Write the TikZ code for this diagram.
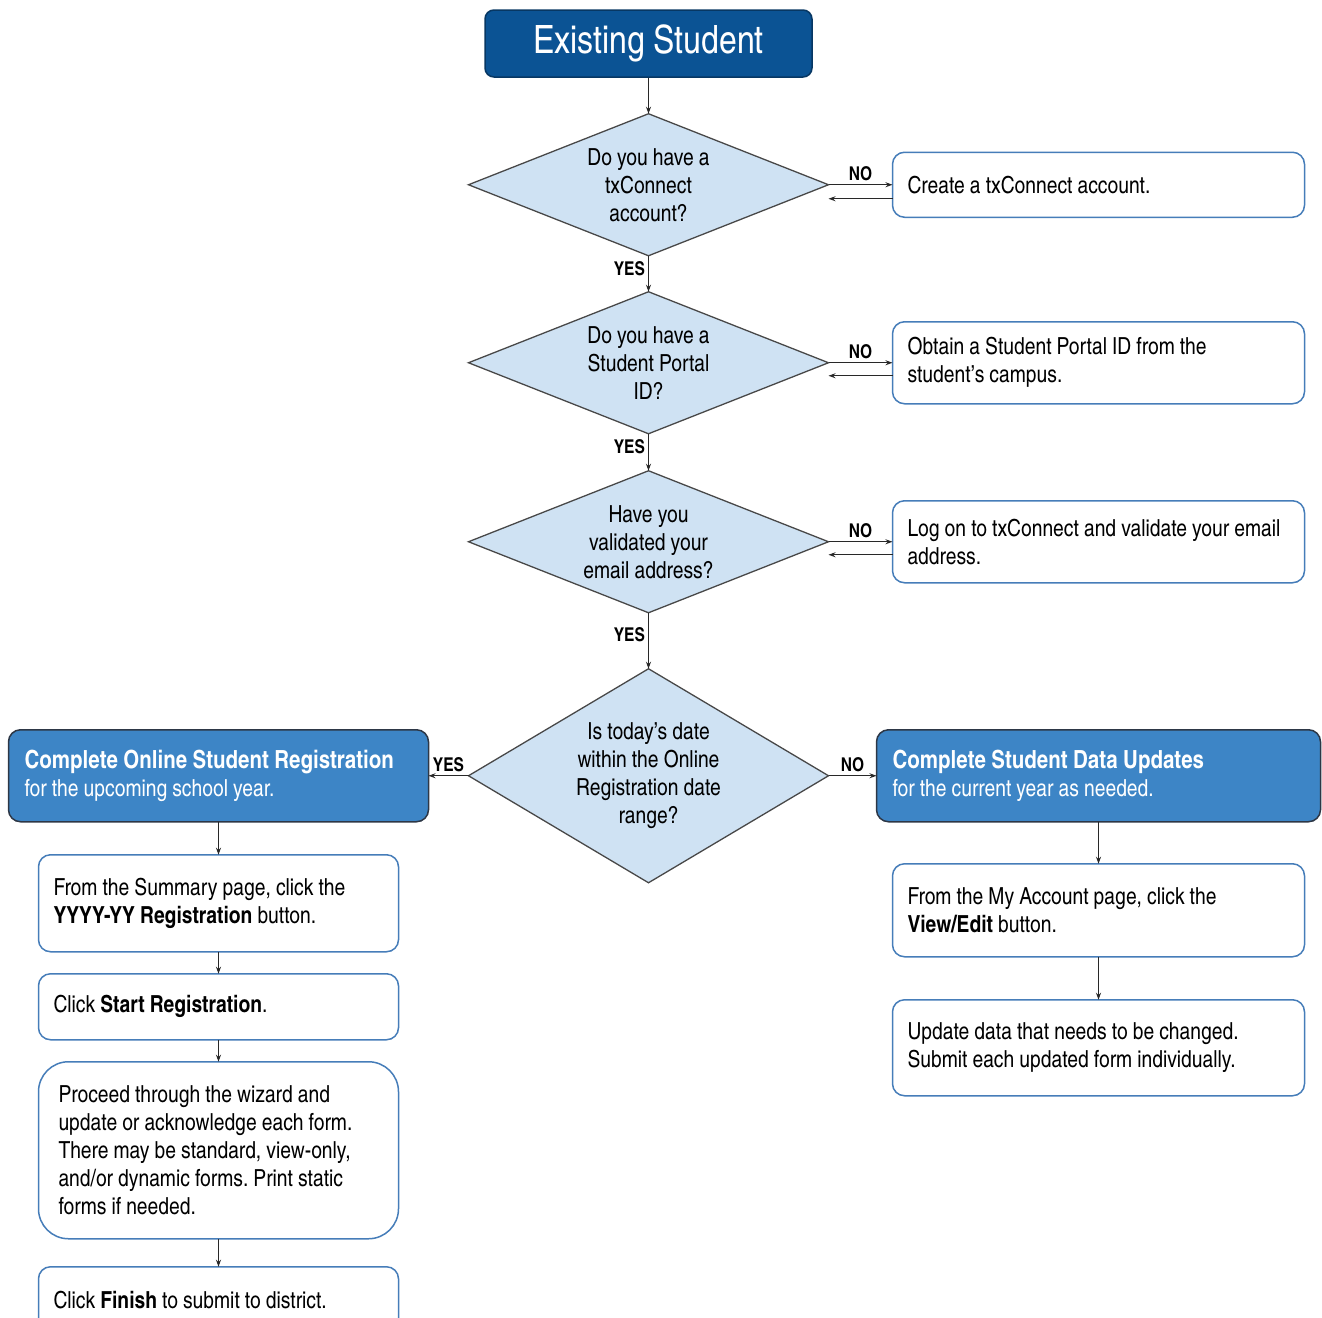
\documentclass[tikz,border=0pt]{standalone}
\usepackage{fontspec}
\setmainfont{texgyreheroscn}[Extension=.otf, UprightFont=*-regular, BoldFont=*-bold, WordSpace=0.95]
\usetikzlibrary{positioning,arrows.meta,shapes.geometric}
\definecolor{titleblue}{RGB}{11,83,148}
\definecolor{titleedge}{RGB}{7,55,99}
\definecolor{stageblue}{RGB}{61,133,198}
\definecolor{stageedge}{RGB}{45,55,70}
\definecolor{decfill}{RGB}{207,226,243}
\definecolor{stepedge}{RGB}{70,125,185}
\definecolor{lineclr}{RGB}{40,40,40}
\newcommand{\txtsize}{\fontsize{23.5}{28}\selectfont}
\newcommand{\headtxt}[1]{{\bfseries\fontsize{25}{28}\selectfont #1}}
\frenchspacing

\begin{document}
\begin{tikzpicture}[
    x=1pt, y=-1pt,
    title/.style={draw=titleedge, line width=1.5pt, fill=titleblue, text=white, rounded corners=9pt, minimum width=327pt, minimum height=67pt, font=\fontsize{39}{44}\selectfont},
    decision/.style={diamond, draw=lineclr!85, line width=1.3pt, fill=decfill, aspect=2.5, inner sep=0pt, outer sep=0pt, minimum width=360pt, minimum height=142pt, align=flush center, font=\txtsize},
    stepbox/.style 2 args={draw=stepedge, line width=1.5pt, fill=white, rounded corners=12pt, inner xsep=15pt, outer sep=0pt, text width=#1, minimum height=#2, align=flush left, font=\txtsize},
    stage/.style={draw=stageedge, line width=1.5pt, fill=stageblue, text=white, rounded corners=12pt, inner xsep=16pt, outer sep=0pt, text width=#1, minimum height=92pt, align=flush left, font=\txtsize},
    arr/.style={-{Stealth[length=7pt,width=5pt]}, line width=1pt, draw=lineclr},
    yn/.style={font=\bfseries\fontsize{19}{22}\selectfont, inner sep=3pt}
  ]
  \useasboundingbox (0,0) rectangle (1322,1317);

  \node[title] (start) at (648.5,43.5) {Existing Student};
  \node[decision, below=36pt of start] (qacct) {Do you have a\\txConnect\\account?};
  \node[decision, below=36pt of qacct] (qportal) {Do you have a\\Student Portal\\ID?};
  \node[decision, below=37pt of qportal] (qemail) {Have you\\validated your\\email address?};
  \node[decision, below=56pt of qemail, aspect=1.7, minimum height=214pt] (qdate) {Is today's date\\within the Online\\Registration date\\range?};

  \node[stepbox={382pt}{65pt}, right=64pt of qacct] (mkacct) {Create a txConnect account.};
  \node[stepbox={382pt}{82pt}, right=64pt of qportal] (getid) {Obtain a Student Portal ID from the\\student's campus.};
  \node[stepbox={382pt}{82pt}, right=64pt of qemail] (valid) {Log on to txConnect and validate your email\\address.};

  \node[stage={388pt}, left=40pt of qdate] (reg) {\headtxt{Complete Online Student Registration}\\for the upcoming school year.};
  \node[stage={412pt}, right=48pt of qdate] (upd) {\headtxt{Complete Student Data Updates}\\for the current year as needed.};

  \node[stepbox={330pt}{97pt}, below=33pt of reg] (summary) {From the Summary page, click the\\\textbf{YYYY-YY Registration} button.};
  \node[stepbox={330pt}{66pt}, below=22pt of summary] (startreg) {Click \textbf{Start Registration}.};
  \node[stepbox={320pt}{177pt}, below=22pt of startreg, rounded corners=30pt, inner xsep=20pt] (wizard) {Proceed through the wizard and\\update or acknowledge each form.\\There may be standard, view-only,\\and/or dynamic forms. Print static\\forms if needed.};
  \node[stepbox={330pt}{66pt}, below=28pt of wizard] (finish) {Click \textbf{Finish} to submit to district.};

  \node[stepbox={382pt}{93pt}, below=42pt of upd] (myacct) {From the My Account page, click the\\\textbf{View/Edit} button.};
  \node[stepbox={382pt}{96pt}, below=43pt of myacct] (update) {Update data that needs to be changed.\\Submit each updated form individually.};

  \draw[arr] (start) -- (qacct);
  \draw[arr] (qacct) -- node[yn, left, pos=0.35] {YES} (qportal);
  \draw[arr] (qportal) -- node[yn, left, pos=0.35] {YES} (qemail);
  \draw[arr] (qemail) -- node[yn, left, pos=0.4] {YES} (qdate);

  \draw[arr] (qacct.east) -- node[yn, above] {NO} (mkacct.west);
  \draw[arr] ([yshift=-14pt]mkacct.west) -- ([yshift=-14pt]qacct.east);
  \draw[arr] (qportal.east) -- node[yn, above] {NO} (getid.west);
  \draw[arr] ([yshift=-13pt]getid.west) -- ([yshift=-13pt]qportal.east);
  \draw[arr] (qemail.east) -- node[yn, above] {NO} (valid.west);
  \draw[arr] ([yshift=-13pt]valid.west) -- ([yshift=-13pt]qemail.east);

  \draw[arr] (qdate.west) -- node[yn, above] {YES} (reg.east);
  \draw[arr] (qdate.east) -- node[yn, above] {NO} (upd.west);

  \draw[arr] (reg) -- (summary);
  \draw[arr] (summary) -- (startreg);
  \draw[arr] (startreg) -- (wizard);
  \draw[arr] (wizard) -- (finish);
  \draw[arr] (upd) -- (myacct);
  \draw[arr] (myacct) -- (update);
\end{tikzpicture}
\end{document}
